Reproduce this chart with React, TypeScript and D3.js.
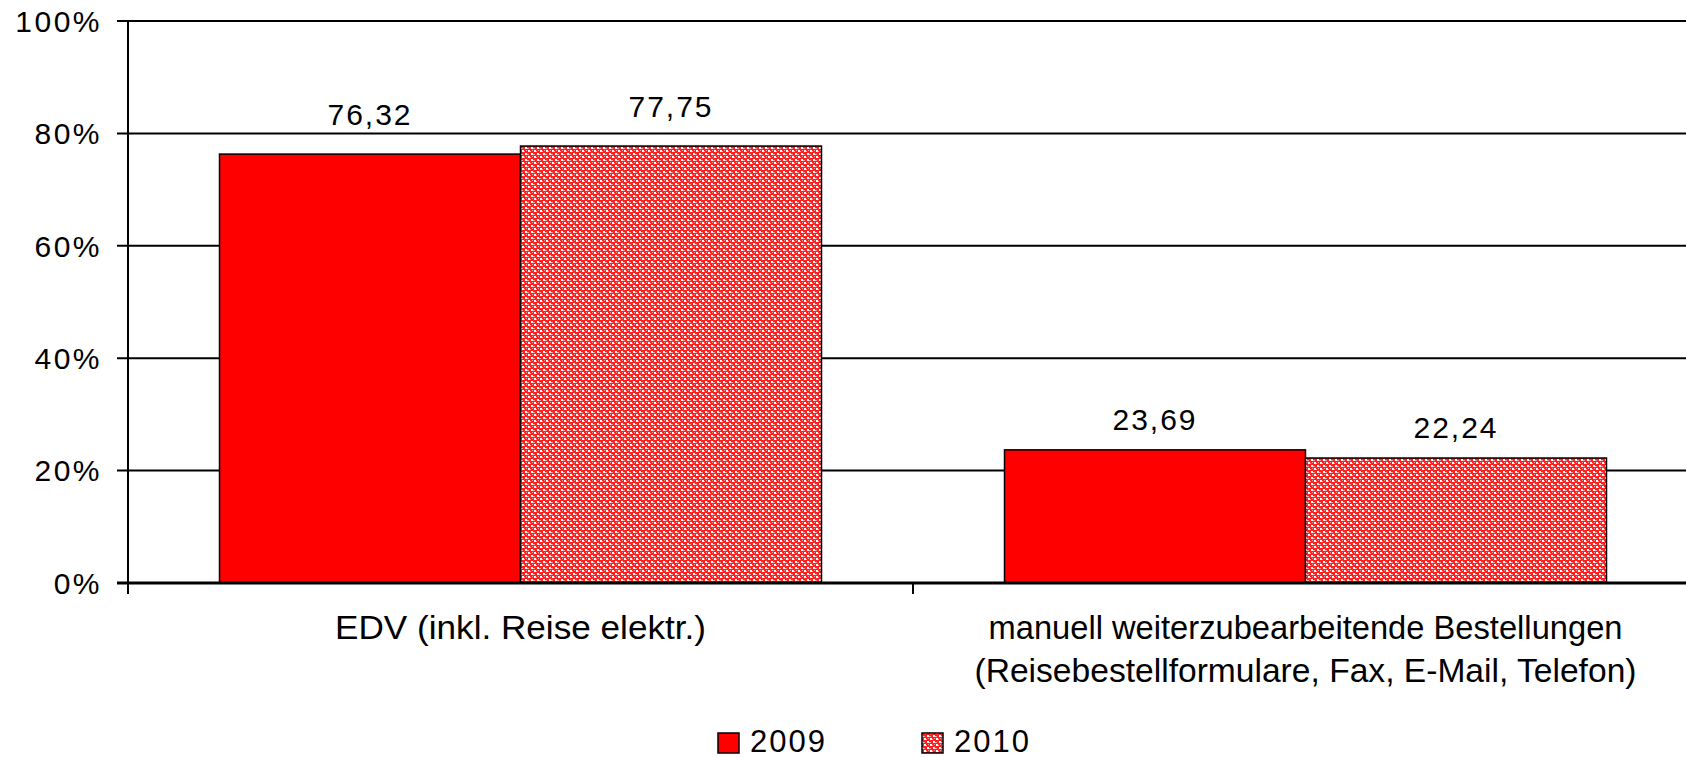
import React from "react";
import * as d3 from "d3";

const categories = ["EDV (inkl. Reise elektr.)", "manuell weiterzubearbeitende Bestellungen\n(Reisebestellformulare, Fax, E-Mail, Telefon)"];
const series = ["2009", "2010"];
const values2009 = [76.32, 23.69];
const values2010 = [77.75, 22.24];
const yTicks = [0, 20, 40, 60, 80, 100];

const W = 1686;
const H = 758;
const FONT = "'Liberation Sans', Arial, sans-serif";
const labelGap = [29, 20];
const catLineWidths = [[371], [634, 662]];

export default function App() {
  const x0 = d3.scaleBand<string>().domain(categories).range([128, 1698]).paddingInner(0).paddingOuter(0);
  const x1 = d3.scaleBand<string>().domain(series).range([0, x0.bandwidth()]).paddingInner(0).paddingOuter(0.304);
  const y = d3.scaleLinear().domain([0, 100]).range([583, 21]);
  const vals = [values2009, values2010];
  const fills = ["#ff0000", "url(#chk)"];
  const fmt = (v: number) => v.toFixed(2).replace(".", ",");

  return (
    <svg width={W} height={H} style={{ position: "absolute", left: 0, top: 0, background: "#fff" }} fontFamily={FONT}>
      <defs>
        <pattern id="chk" patternUnits="userSpaceOnUse" width={6} height={6}>
          <rect width={6} height={6} fill="#ff2020" />
          <rect x={0} y={0} width={2} height={2} fill="#ffffff" />
          <rect x={3} y={3} width={2} height={2} fill="#ffffff" />
          <rect x={2} y={1} width={1} height={1} fill="#ffb0b0" />
          <rect x={5} y={4} width={1} height={1} fill="#ffb0b0" />
          <rect x={0} y={4} width={1} height={1} fill="#ff9090" />
          <rect x={4} y={0} width={1} height={1} fill="#ff9090" />
        </pattern>
      </defs>
      {yTicks.filter((t) => t > 0).map((t) => (
        <line key={t} x1={117} x2={W} y1={y(t)} y2={y(t)} stroke="#000" strokeWidth={2} />
      ))}
      {yTicks.map((t) => (
        <text key={t} x={102} y={y(t)} dy="0.36em" textAnchor="end" fontSize={30} letterSpacing={2.5} fill="#000">
          {t + "%"}
        </text>
      ))}
      {categories.map((c, ci) =>
        series.map((s, si) => {
          const bx = (x0(c) as number) + (x1(s) as number);
          const v = vals[si][ci];
          return (
            <g key={c + s}>
              <rect x={bx} y={y(v)} width={x1.bandwidth()} height={y(0) - y(v)} fill={fills[si]} stroke="#000" strokeWidth={1.5} />
              <text x={bx + x1.bandwidth() / 2} y={y(v) - labelGap[ci]} textAnchor="middle" fontSize={30} letterSpacing={2} fill="#000">
                {fmt(v)}
              </text>
            </g>
          );
        })
      )}
      <line x1={128} x2={128} y1={y(100) - 1} y2={594} stroke="#000" strokeWidth={2} />
      <line x1={117} x2={W} y1={y(0)} y2={y(0)} stroke="#000" strokeWidth={3} />
      {categories.map((c, ci) => (
        <line key={"t" + ci} x1={(x0(c) as number) + x0.bandwidth()} x2={(x0(c) as number) + x0.bandwidth()} y1={583} y2={594} stroke="#000" strokeWidth={2} />
      ))}
      {categories.map((c, ci) => {
        const lines = c.split("\n");
        const cx = (x0(c) as number) + x0.bandwidth() / 2;
        return (
          <text key={"l" + c} x={cx} textAnchor="middle" fontSize={33} fill="#000">
            {lines.map((ln, i) => (
              <tspan key={i} x={cx} y={639 + i * 43} textLength={catLineWidths[ci][i]} lengthAdjust="spacingAndGlyphs">{ln}</tspan>
            ))}
          </text>
        );
      })}
      {series.map((s, si) => {
        const lx = 718 + si * 204;
        return (
          <g key={"lg" + s}>
            <rect x={lx} y={733} width={21} height={20} fill={fills[si]} stroke="#000" strokeWidth={1.5} />
            <text x={lx + 32} y={752} fontSize={31} letterSpacing={2} fill="#000">{s}</text>
          </g>
        );
      })}
    </svg>
  );
}
